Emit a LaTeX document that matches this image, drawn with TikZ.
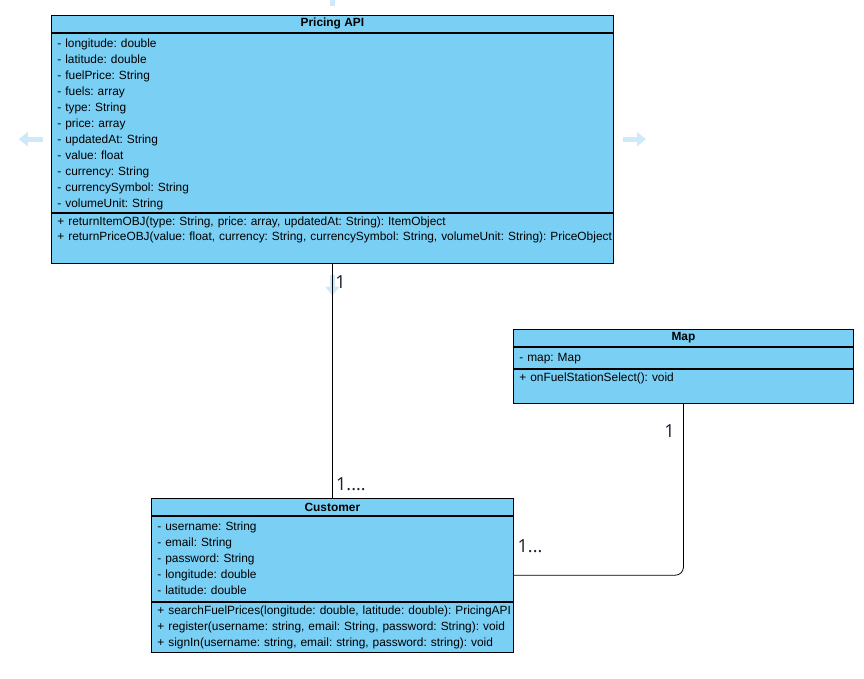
\documentclass[tikz,border=0pt]{standalone}
\usepackage{fontspec}
\setmainfont{Liberation Sans}
\newfontfamily\multfont{Open Sans}
\usepackage{tikz}
\usetikzlibrary{arrows.meta, positioning, calc, fit}
\definecolor{clsfill}{RGB}{122,207,244}
\definecolor{hintblue}{RGB}{206,234,250}
\definecolor{mydark}{RGB}{25,30,50}
\frenchspacing
\tikzset{
  clshead/.style={rectangle, draw=black, fill=clsfill, anchor=north west, inner sep=0pt,
    minimum height=17pt, font=\bfseries\fontsize{11.9}{14}\selectfont, line width=0.8pt},
  member/.style={rectangle, draw=black, fill=clsfill, anchor=north west, align=left,
    inner xsep=6pt, inner ysep=2pt, text height=12pt, font=\fontsize{11.9}{16}\selectfont,
    line width=0.8pt},
  assoc/.style={line width=0.8pt, color=black},
  mult/.style={font=\multfont\fontsize{18}{20}\selectfont, color=mydark, inner sep=0pt},
  hint/.style={line width=5pt, color=hintblue, -{Triangle[width=14pt,length=9pt]}}
}

\begin{document}
\begin{tikzpicture}[x=1pt, y=-1pt]
\useasboundingbox (0,0) rectangle (864,679);

% Pricing API class
\node[clshead, minimum width=562pt] (apihead) at (51,15) {Pricing API};
\node[member, text width=550pt, text depth=163pt] (apiattr) at (apihead.south west)
  {- longitude: double\\- latitude: double\\- fuelPrice: String\\- fuels: array\\
   - type: String\\- price: array\\- updatedAt: String\\- value: float\\
   - currency: String\\- currencySymbol: String\\- volumeUnit: String};
\node[member, text width=550pt, text height=10pt, text depth=36pt] (apiops) at (apiattr.south west)
  {+ returnItemOBJ(type: String, price: array, updatedAt: String): ItemObject\\
   \mbox{+ returnPriceOBJ(value: float, currency: String, currencySymbol: String, volumeUnit: String): PriceObject}};
\node[fit=(apihead)(apiops), inner sep=0pt] (api) {};

% faint hover arrows round the selected class
\draw[hint] ([xshift=-8pt]api.west) -- ([xshift=-32pt]api.west);
\draw[hint] ([xshift=9pt]api.east) -- ([xshift=32pt]api.east);
\draw[line width=5pt, color=hintblue] ([yshift=9pt]api.north) -- ([yshift=16pt]api.north);
\draw[hint] ([yshift=-11pt]api.south) -- ([yshift=-32pt]api.south);

% Map class
\node[clshead, minimum width=340pt] (maphead) at (513,329) {Map};
\node[member, text width=328pt, text depth=5pt] (mapattr) at (maphead.south west) {- map: Map};
\node[member, text width=328pt, text height=10pt, text depth=20pt] (mapops) at (mapattr.south west)
  {+ onFuelStationSelect(): void};

% Customer class
\node[clshead, minimum width=362pt] (custhead) at (151,498) {Customer};
\node[member, text width=350pt, text depth=69pt] (custattr) at (custhead.south west)
  {- username: String\\- email: String\\- password: String\\- longitude: double\\- latitude: double};
\node[member, text width=350pt, text height=10pt, text depth=36pt] (custops) at (custattr.south west)
  {\mbox{+ searchFuelPrices(longitude: double, latitude: double): PricingAPI}\\
   \mbox{+ register(username: string, email: String, password: String): void}\\
   \mbox{+ signIn(username: string, email: string, password: string): void}};
\node[fit=(custhead)(custops), inner sep=0pt] (cust) {};

% associations
\draw[assoc] (apiops.south) -- (custhead.north);
\draw[assoc, rounded corners=8pt] (mapops.south) |- (cust.east);

% multiplicities
\node[mult] (apimult) at ([xshift=8pt, yshift=-19pt]apiops.south) {1};
\node[mult] (custmult) at ([xshift=18.5pt, yshift=13.5pt]custhead.north) {1....};
\node[mult] (mapmult) at ([xshift=-14pt, yshift=-28pt]mapops.south) {1};
\node[mult] (custmapmult) at ([xshift=16pt, yshift=29.5pt]cust.east) {1...};
\end{tikzpicture}
\end{document}
